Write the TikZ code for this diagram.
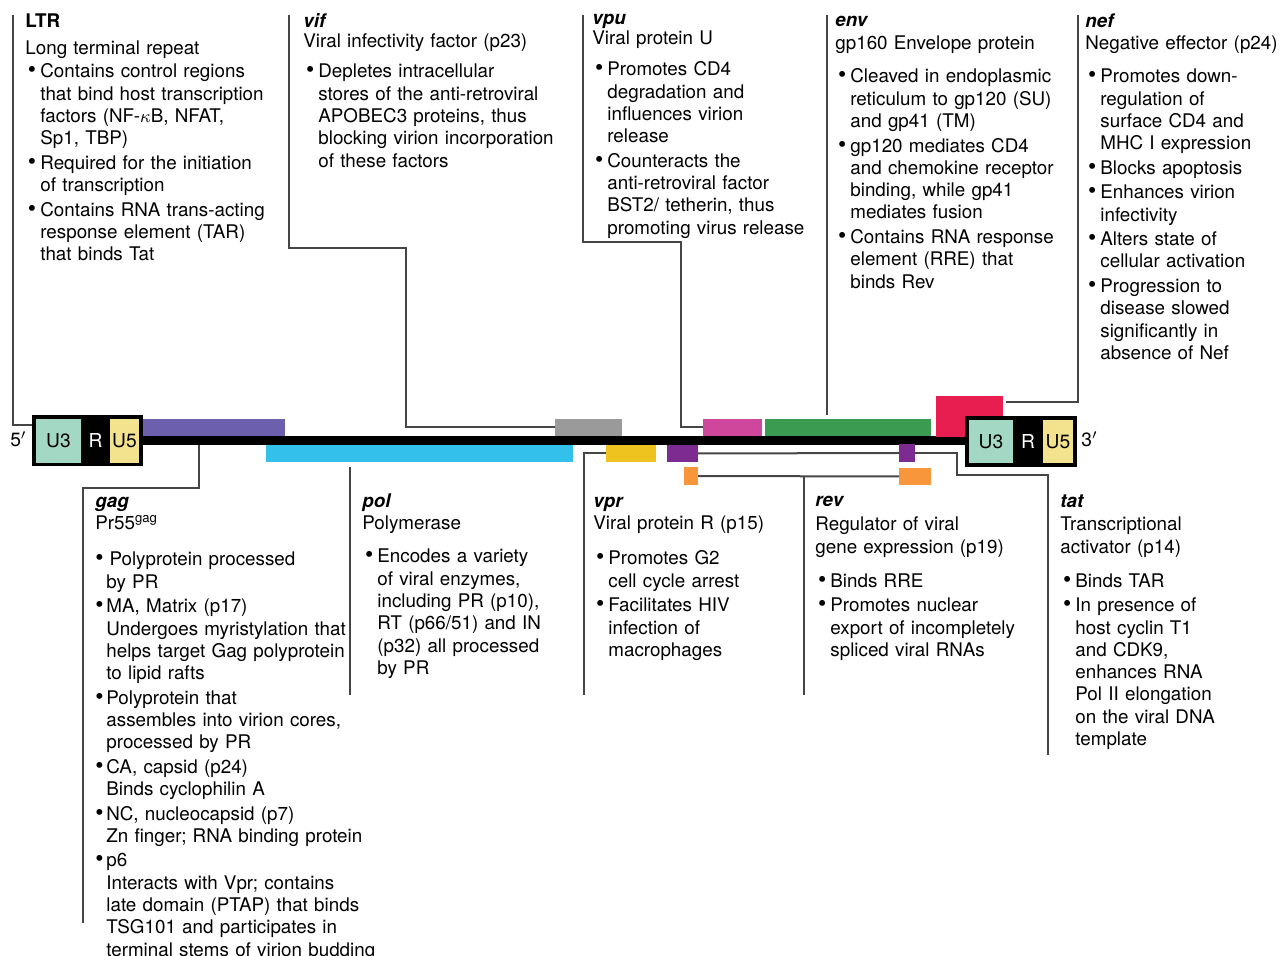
\documentclass[tikz,border=0pt]{standalone}
\usepackage{fontspec}
\setmainfont{TeX Gyre Heros}
\usetikzlibrary{fit, calc}
\definecolor{u3c}{HTML}{A3D8C4}
\definecolor{u5c}{HTML}{F4E38E}
\definecolor{gagc}{HTML}{6B5FAE}
\definecolor{polc}{HTML}{33C1EC}
\definecolor{vifc}{HTML}{9A9A9A}
\definecolor{vprc}{HTML}{EEC31F}
\definecolor{tatc}{HTML}{7D2B90}
\definecolor{revc}{HTML}{F7963A}
\definecolor{vpuc}{HTML}{CE479D}
\definecolor{envc}{HTML}{3B9B50}
\definecolor{nefc}{HTML}{E91E50}
\definecolor{leadc}{HTML}{454545}
\tikzset{
  seg/.style={fill=#1, inner sep=0pt, outer sep=0pt},
  boxlbl/.style={inner sep=0pt, font=\fontsize{9.6}{11}\selectfont},
  lead/.style={draw=leadc, line width=1pt},
  note/.style={anchor=base west, inner sep=0pt, text width=170pt, align=left, font=\fontsize{9.4}{11.15}\selectfont},
}
\newlength\gind \setlength\gind{7.5pt}
\newlength\bulx \setlength\bulx{1.3pt}
\newcommand\gname[1]{\textbf{\textit{#1}}}
\newcommand\ghead[4]{#1\par\vspace{#3}#2\par\vspace{#4}}
\newcommand\brk{\newline}
\newcommand\gi{\par\vspace{1.1pt}\hangindent=\gind\hangafter=1\noindent\makebox[\gind][l]{\hspace{\bulx}\smash{\scalebox{1.25}{\textbullet}}}}

\begin{document}
\begin{tikzpicture}[x=0.5pt, y=-0.5pt]
  \useasboundingbox (0,0) rectangle (1281,956);

  % genome
  \node[seg=black, fit={(139,436) (969,445)}] (genome) {};
  \node[seg=gagc, fit={(143,419) (285,436)}] (gagbar) {};
  \node[seg=polc, fit={(266,445) (573,462)}] (polbar) {};
  \node[seg=vifc, fit={(555,419) (622,436)}] (vifbar) {};
  \node[seg=vprc, fit={(606,445) (656,462)}] (vprbar) {};
  \node[seg=tatc, fit={(667,445) (698,462)}] (tat1) {};
  \node[seg=revc, fit={(684,467) (698,485)}] (rev1) {};
  \node[seg=vpuc, fit={(703,419) (762,436)}] (vpubar) {};
  \node[seg=envc, fit={(765,419) (931,436)}] (envbar) {};
  \node[seg=tatc, fit={(899,444) (915,462)}] (tat2) {};
  \node[seg=revc, fit={(899,468) (931,485)}] (rev2) {};
  \node[seg=nefc, fit={(936,396) (1003,437)}] (nefbar) {};

  % LTRs
  \node[seg=black, fit={(32,415) (143,466)}] (ltr5) {};
  \node[seg=u3c, fit={(36,419) (81,463)}] (u3a) {};
  \node[seg=u5c, fit={(110,419) (139,463)}] (u5a) {};
  \node[seg=black, fit={(965,416) (1077,467)}] (ltr3) {};
  \node[seg=u3c, fit={(969,420) (1013,463)}] (u3b) {};
  \node[seg=u5c, fit={(1043,420) (1073,463)}] (u5b) {};
  \node[boxlbl] (u3atxt) at (u3a.center) {U3};
  \node[boxlbl, text=white] (ratxt) at (95.5,441) {R};
  \node[boxlbl] (u5atxt) at (u5a.center) {U5};
  \node[boxlbl] (u3btxt) at (u3b.center) {U3};
  \node[boxlbl, text=white] (rbtxt) at (1028,441.5) {R};
  \node[boxlbl] (u5btxt) at (u5b.center) {U5};
  \node[boxlbl, anchor=east] (five) at (27,439) {5$'$};
  \node[boxlbl, anchor=west] (three) at (1081,439) {3$'$};

  % top notes
  \node[note] (ltrnote) at (25,28) {\ghead{\textbf{LTR}}{Long terminal repeat}{2.35pt}{-0.75pt}%
    \gi Contains control regions\brk that bind host transcription\brk factors (NF-$\kappa$B, NFAT,\brk Sp1, TBP)
    \gi Required for the initiation\brk of transcription
    \gi Contains RNA trans-acting\brk response element (TAR)\brk that binds Tat\par};
  \node[note] (vifnote) at (303,28) {\ghead{\gname{vif}}{Viral infectivity factor (p23)}{-1.15pt}{2.75pt}%
    \gi Depletes intracellular\brk stores of the anti-retroviral\brk APOBEC3 proteins, thus\brk blocking virion incorporation\brk of these factors\par};
  \node[note] (vpunote) at (592,25) {\ghead{\gname{vpu}}{Viral protein U}{-1.15pt}{3.25pt}%
    \gi Promotes CD4\brk degradation and\brk influences virion\brk release
    \gi Counteracts the\brk anti-retroviral factor\brk BST2/ tetherin, thus\brk promoting virus release\par};
  \node[note] (envnote) at (835,27) {\ghead{\gname{env}}{gp160 Envelope protein}{0.35pt}{4.25pt}%
    \gi Cleaved in endoplasmic\brk reticulum to gp120 (SU)\brk and gp41 (TM)
    \gi gp120 mediates CD4\brk and chemokine receptor\brk binding, while gp41\brk mediates fusion
    \gi Contains RNA response\brk element (RRE) that\brk binds Rev\par};
  \node[note] (nefnote) at (1085,28) {\ghead{\gname{nef}}{Negative effector (p24)}{-0.15pt}{4.25pt}%
    \gi Promotes down-\brk regulation of\brk surface CD4 and\brk MHC I expression
    \gi Blocks apoptosis
    \gi Enhances virion\brk infectivity
    \gi Alters state of\brk cellular activation
    \gi Progression to\brk disease slowed\brk significantly in\brk absence of Nef\par};

  % bottom notes
  \node[note] (gagnote) at (95,508) {\setlength\gind{5.5pt}\setlength\bulx{0pt}%
    \ghead{\gname{gag}}{Pr55\textsuperscript{gag}}{-0.15pt}{5.75pt}%
    \gi \,Polyprotein processed\brk by PR
    \gi MA, Matrix (p17)\brk Undergoes myristylation that\brk helps target Gag polyprotein\brk to lipid rafts
    \gi Polyprotein that\brk assembles into virion cores,\brk processed by PR
    \gi CA, capsid (p24)\brk Binds cyclophilin A
    \gi NC, nucleocapsid (p7)\brk Zn finger; RNA binding protein
    \gi p6\brk Interacts with Vpr; contains\brk late domain (PTAP) that binds\brk TSG101 and participates in\brk terminal stems of virion budding\par};
  \node[note] (polnote) at (362,508) {\ghead{\gname{pol}}{Polymerase}{-0.15pt}{4.25pt}%
    \gi Encodes a variety\brk of viral enzymes,\brk including PR (p10),\brk RT (p66/51) and IN\brk (p32) all processed\brk by PR\par};
  \node[note] (vprnote) at (593,508) {\ghead{\gname{vpr}}{Viral protein R (p15)}{-0.15pt}{5.25pt}%
    \gi Promotes G2\brk cell cycle arrest
    \gi Facilitates HIV\brk infection of\brk macrophages\par};
  \node[note] (revnote) at (815,507) {\ghead{\gname{rev}}{Regulator of viral\brk gene expression (p19)}{0.85pt}{4.75pt}%
    \gi Binds RRE
    \gi Promotes nuclear\brk export of incompletely\brk spliced viral RNAs\par};
  \node[note] (tatnote) at (1060,508) {\ghead{\gname{tat}}{Transcriptional\brk activator (p14)}{0.35pt}{4.75pt}%
    \gi Binds TAR
    \gi In presence of\brk host cyclin T1\brk and CDK9,\brk enhances RNA\brk Pol II elongation\brk on the viral DNA\brk template\par};

  % leaders
  \coordinate (ltrtop) at (13,15);
  \coordinate (viftop) at (289,15);
  \coordinate (vputop) at (583,15);
  \coordinate (envtop) at (827,15);
  \coordinate (neftop) at (1078,15);
  \coordinate (gagtap) at (199,445);
  \coordinate (gagend) at (83,923);
  \coordinate (poltap) at (350,467);
  \coordinate (polend) at (350,695);
  \coordinate (vprend) at (584,695);
  \coordinate (revend) at (804,695);
  \coordinate (tatend) at (1048,755);
  \draw[lead] (ltrtop) |- ($(ltr5.west)+(0,-15)$);
  \draw[lead] (viftop) |- (406,248) |- (vifbar.west);
  \draw[lead] (vputop) |- (681,242) |- (vpubar.west);
  \draw[lead] (envtop) -- ($(envtop |- envbar.north)+(0,-4)$);
  \draw[lead] (neftop) |- ($(nefbar.north east)+(3,6)$);
  \draw[lead] (gagtap) -- ++(0,43) -| (gagend);
  \draw[lead] (poltap) -- (polend);
  \draw[lead] (vprbar.west) -| (vprend);
  \draw[lead] (rev1.east) -- (rev2.west);
  \draw[lead] (rev1.east -| revend) -- (revend);
  \draw[lead] (tat1.east) -- (tat2.west);
  \draw[lead] (tat2.east) -| (957,475) -| (tatend);
\end{tikzpicture}
\end{document}
